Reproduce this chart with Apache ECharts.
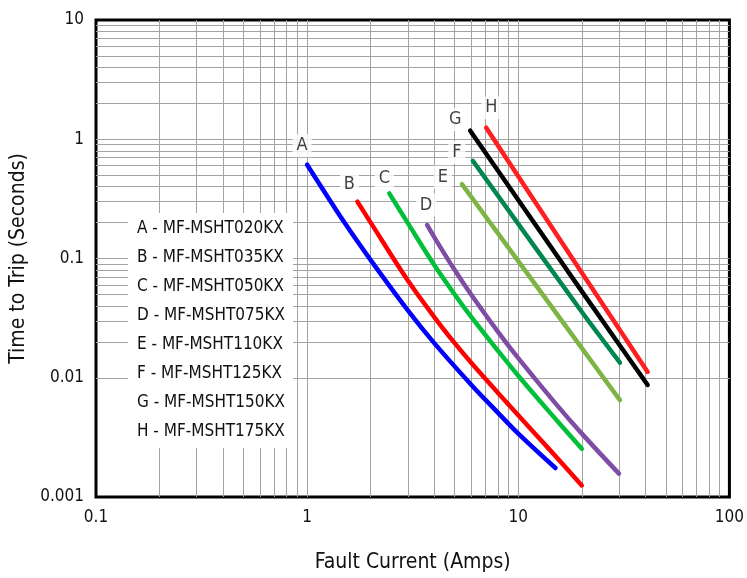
<!DOCTYPE html>
<html><head><meta charset="utf-8">
<script src="https://cdn.jsdelivr.net/npm/echarts@6/dist/echarts.min.js"></script>
<style>html,body{margin:0;padding:0;background:#fff}#c{width:747px;height:578px}</style>
</head><body><div id="c"></div>
<script>
const FONT = "'Liberation Sans Narrow','DejaVu Sans Condensed','Liberation Sans',sans-serif";

const seriesNames = ['A - MF-MSHT020KX','B - MF-MSHT035KX','C - MF-MSHT050KX','D - MF-MSHT075KX',
                     'E - MF-MSHT110KX','F - MF-MSHT125KX','G - MF-MSHT150KX','H - MF-MSHT175KX'];
const letters = ['A','B','C','D','E','F','G','H'];

// Fault current (A) and time to trip (s)
const xA = [1, 1.5, 2, 3, 4, 6, 8, 10, 15];
const yA = [0.612, 0.201, 0.097, 0.0367, 0.0195, 0.0087, 0.0051, 0.0034, 0.00175];
const xB = [1.73, 2, 3, 4, 5, 6, 8, 10, 14, 20];
const yB = [0.30, 0.20, 0.0653, 0.0323, 0.0195, 0.0133, 0.0075, 0.00485, 0.00252, 0.00125];
const xC = [2.45, 3, 4, 5, 6, 8, 10, 14, 20];
const yC = [0.352, 0.198, 0.0882, 0.0499, 0.0322, 0.0169, 0.0104, 0.0052, 0.00254];
const xD = [3.7, 4, 5, 6, 8, 10, 15, 20, 30];
const yD = [0.191, 0.151, 0.080, 0.0494, 0.0244, 0.0146, 0.0061, 0.0034, 0.00157];
const xE = [5.41, 8, 20, 30.3];
const yE = [0.42, 0.163, 0.0177, 0.0065];
const xF = [6.09, 19.7, 30.3];
const yF = [0.66, 0.037, 0.0134];
const xG = [5.92, 20, 41];
const yG = [1.18, 0.053, 0.0087];
const xH = [7.05, 20, 41];
const yH = [1.25, 0.076, 0.0112];

const xTickValues = [0.1, 1, 10, 100];
const xTickLabels = ['0.1', '1', '10', '100'];
const yTickValues = [0.001, 0.01, 0.1, 1, 10];
const yTickLabels = ['0.001', '0.01', '0.1', '1', '10'];
const xDecades = [0.1, 1, 10];
const yDecades = [0.001, 0.01, 0.1, 1];
const gridMultipliers = [1, 2, 3, 4, 5, 6, 7, 8, 9];

const colors = ['#0000ff', '#ff0000', '#00c03a', '#7f4ca6', '#7db443', '#00874f', '#000000', '#ff1f1f'];
const labelOffsets = [[-5,-19],[-8,-17],[-5,-15],[-1,-20],[-19,-7],[-16,-8],[-15,-11],[5,-20]];

const xs = [xA, xB, xC, xD, xE, xF, xG, xH];
const ys = [yA, yB, yC, yD, yE, yF, yG, yH];

function fmt(values, labels) {
  return function (v) {
    for (let i = 0; i < values.length; i++) {
      if (Math.abs(Math.log10(v) - Math.log10(values[i])) < 1e-6) return labels[i];
    }
    return '';
  };
}

// grid lines (log decades x multipliers), excluding the frame edges
const gridLineData = [];
xDecades.forEach(d => gridMultipliers.forEach(m => {
  if (m !== 1 || d !== xDecades[0]) gridLineData.push({ xAxis: d * m });
}));
yDecades.forEach(d => gridMultipliers.forEach(m => {
  if (m !== 1 || d !== yDecades[0]) gridLineData.push({ yAxis: d * m });
}));

const series = [{
  type: 'line', name: 'grid', data: [], silent: true, z: 1,
  markLine: {
    silent: true, z: 1, symbol: ['none', 'none'], animation: false,
    label: { show: false },
    lineStyle: { color: '#a3a3a3', width: 1, type: 'solid' },
    emphasis: { disabled: true },
    data: gridLineData
  }
}];

seriesNames.forEach((name, i) => {
  series.push({
    type: 'line', name: name, z: 3,
    data: xs[i].map((x, k) => [x, ys[i][k]]),
    smooth: 0.35, showSymbol: false, symbol: 'none',
    lineStyle: { color: colors[i], width: 4.5, cap: 'round', join: 'round' },
    itemStyle: { color: colors[i] },
    emphasis: { disabled: true },
    animation: false
  });
});

series.push({
  type: 'scatter', name: 'letters', z: 6, silent: true, animation: false,
  symbolSize: 0,
  data: letters.map((l, i) => ({
    value: [xs[i][0], ys[i][0]],
    label: {
      show: true, formatter: l, position: 'inside', offset: labelOffsets[i],
      color: '#111', fontFamily: FONT, fontSize: 18,
      backgroundColor: '#fff', padding: [3, 4, 2, 4]
    }
  }))
});

const chart = echarts.init(document.getElementById('c'), null, { renderer: 'canvas' });
chart.setOption({
  backgroundColor: '#fff',
  animation: false,
  grid: { left: 96, right: 14, top: 20, bottom: 81, show: true, borderColor: '#000', borderWidth: 3, backgroundColor: 'transparent' },
  legend: {
    data: seriesNames, orient: 'vertical', left: 128, top: 213, z: 10,
    backgroundColor: '#fff', padding: [6, 8, 6, 3],
    itemWidth: 0, itemHeight: 0, itemGap: 9, selectedMode: false,
    textStyle: { color: '#111', fontFamily: FONT, fontSize: 17, lineHeight: 20 }
  },
  xAxis: {
    type: 'log', logBase: 10, min: 0.1, max: 100,
    name: 'Fault Current (Amps)', nameLocation: 'middle', nameGap: 55,
    nameTextStyle: { color: '#111', fontFamily: FONT, fontSize: 21 },
    axisLine: { show: false }, axisTick: { show: false }, splitLine: { show: false },
    axisLabel: { margin: 12, color: '#111', fontFamily: FONT, fontSize: 17, formatter: fmt(xTickValues, xTickLabels) }
  },
  yAxis: {
    type: 'log', logBase: 10, min: 0.001, max: 10,
    name: 'Time to Trip (Seconds)', nameLocation: 'middle', nameGap: 62,
    nameTextStyle: { color: '#111', fontFamily: FONT, fontSize: 21 },
    axisLine: { show: false }, axisTick: { show: false }, splitLine: { show: false },
    axisLabel: { margin: 12, color: '#111', fontFamily: FONT, fontSize: 17, formatter: fmt(yTickValues, yTickLabels) }
  },
  series: series
});
</script></body></html>
